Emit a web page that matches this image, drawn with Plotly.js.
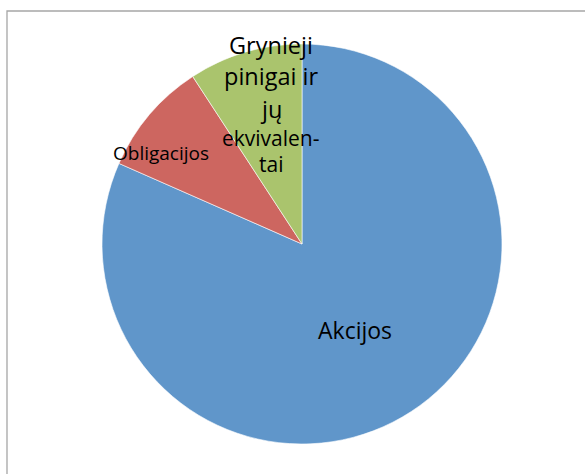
<!DOCTYPE html>
<html>
<head>
<meta charset="utf-8">
<script src="https://cdn.plot.ly/plotly-3.0.1.min.js"></script>
<style>html,body{margin:0;padding:0;background:#fff;overflow:hidden}#chart{width:585px;height:474px}</style>
</head>
<body>
<div id="chart"></div>
<script>
var categories = ["Akcijos", "Obligacijos", "Grynieji pinigai ir jų ekvivalentai"];
var displayLabels = ["Akcijos", "Obligacijos", "Grynieji<br>pinigai ir<br>jų<br>ekvivalen-<br>tai"];
var values = [81.6, 9.2, 9.2];
var colors = ["#6096CA", "#CD6660", "#AAC46D"];

var W = 585, H = 474;
var cx = 302, cy = 244, r = 200;

// label line placement (pixel centres) and sizes, one entry per label, one row per text line
var labelLines = [
  [{x: 355.5, y: 330, size: 23}],
  [{x: 161, y: 152.5, size: 19}],
  [{x: 270.5, y: 44.5, size: 23.5},
   {x: 270.5, y: 76.5, size: 23.5},
   {x: 270.5, y: 109, size: 23.5},
   {x: 270.5, y: 138, size: 21},
   {x: 270.5, y: 164.5, size: 21}]
];

var annotations = [];
displayLabels.forEach(function (t, i) {
  t.split("<br>").forEach(function (line, j) {
    var p = labelLines[i][j];
    annotations.push({
      text: line, xref: "paper", yref: "paper",
      x: p.x / W, y: 1 - p.y / H,
      xanchor: "center", yanchor: "middle", showarrow: false,
      font: {family: "Open Sans", size: p.size, color: "#000"}
    });
  });
});

var trace = {
  type: "pie",
  labels: categories,
  values: values,
  sort: false,
  direction: "clockwise",
  rotation: 0,
  textinfo: "none",
  hoverinfo: "none",
  marker: {colors: colors, line: {color: "#ffffff", width: 0.6}},
  domain: {x: [(cx - r) / W, (cx + r) / W], y: [(H - cy - r) / H, (H - cy + r) / H]},
  showlegend: false
};

var layout = {
  width: W, height: H,
  margin: {l: 0, r: 0, t: 0, b: 0},
  paper_bgcolor: "#fff",
  showlegend: false,
  annotations: annotations,
  shapes: [{
    type: "rect", xref: "paper", yref: "paper",
    x0: 7 / W, x1: 1.05, y0: -0.05, y1: 1 - 11 / H,
    line: {color: "#A6A6A6", width: 1.3}, layer: "below"
  }]
};

Plotly.newPlot("chart", [trace], layout, {displayModeBar: false, staticPlot: true});
</script>
</body>
</html>
